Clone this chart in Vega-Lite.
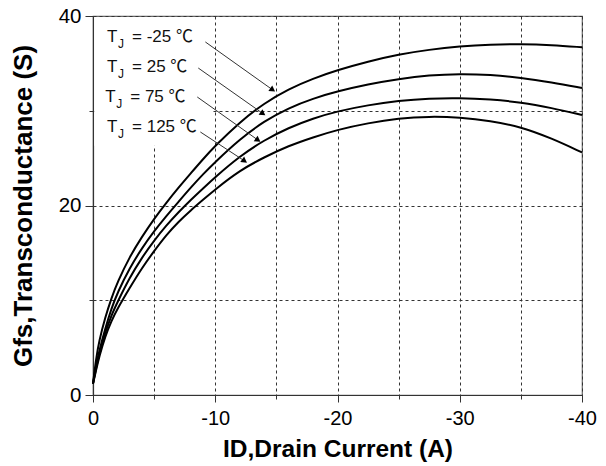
{
  "$schema": "https://vega.github.io/schema/vega-lite/v6.json",
  "width": 489,
  "height": 379,
  "autosize": "none",
  "padding": {"left": 93, "top": 16, "right": 24, "bottom": 71},
  "background": "white",
  "config": {
    "view": {"stroke": "#666", "strokeWidth": 1.2},
    "font": "Liberation Sans"
  },
  "datasets": {
    "curves": [
      {"s": "-25", "x": 0, "y": 1.2}, {"s": "-25", "x": -0.25, "y": 3.8}, {"s": "-25", "x": -0.5, "y": 5.7}, {"s": "-25", "x": -1, "y": 8.2}, {"s": "-25", "x": -1.5, "y": 10.2}, {"s": "-25", "x": -2, "y": 11.9}, {"s": "-25", "x": -3, "y": 14.6}, {"s": "-25", "x": -4, "y": 16.7}, {"s": "-25", "x": -5, "y": 18.6}, {"s": "-25", "x": -6, "y": 20.3}, {"s": "-25", "x": -7, "y": 21.9}, {"s": "-25", "x": -8, "y": 23.4}, {"s": "-25", "x": -9, "y": 24.9}, {"s": "-25", "x": -10, "y": 26.3}, {"s": "-25", "x": -12, "y": 28.8}, {"s": "-25", "x": -14, "y": 30.8}, {"s": "-25", "x": -16, "y": 32.3}, {"s": "-25", "x": -18, "y": 33.4}, {"s": "-25", "x": -20, "y": 34.3}, {"s": "-25", "x": -22.5, "y": 35.2}, {"s": "-25", "x": -25, "y": 35.95}, {"s": "-25", "x": -27.5, "y": 36.45}, {"s": "-25", "x": -30, "y": 36.8}, {"s": "-25", "x": -32.5, "y": 37.0}, {"s": "-25", "x": -35, "y": 37.05}, {"s": "-25", "x": -37.5, "y": 36.95}, {"s": "-25", "x": -40, "y": 36.7},
      {"s": "25", "x": 0, "y": 1.2}, {"s": "25", "x": -0.25, "y": 3.1}, {"s": "25", "x": -0.5, "y": 4.6}, {"s": "25", "x": -1, "y": 7.0}, {"s": "25", "x": -1.5, "y": 9.1}, {"s": "25", "x": -2, "y": 10.8}, {"s": "25", "x": -3, "y": 13.4}, {"s": "25", "x": -4, "y": 15.5}, {"s": "25", "x": -5, "y": 17.3}, {"s": "25", "x": -6, "y": 18.9}, {"s": "25", "x": -7, "y": 20.4}, {"s": "25", "x": -8, "y": 21.9}, {"s": "25", "x": -9, "y": 23.3}, {"s": "25", "x": -10, "y": 24.6}, {"s": "25", "x": -12, "y": 27.0}, {"s": "25", "x": -14, "y": 28.9}, {"s": "25", "x": -16, "y": 30.3}, {"s": "25", "x": -18, "y": 31.3}, {"s": "25", "x": -20, "y": 32.05}, {"s": "25", "x": -22.5, "y": 32.8}, {"s": "25", "x": -25, "y": 33.35}, {"s": "25", "x": -27.5, "y": 33.75}, {"s": "25", "x": -30, "y": 33.9}, {"s": "25", "x": -32.5, "y": 33.8}, {"s": "25", "x": -35, "y": 33.5}, {"s": "25", "x": -37.5, "y": 33.0}, {"s": "25", "x": -40, "y": 32.4},
      {"s": "75", "x": 0, "y": 1.2}, {"s": "75", "x": -0.25, "y": 2.8}, {"s": "75", "x": -0.5, "y": 4.3}, {"s": "75", "x": -1, "y": 6.6}, {"s": "75", "x": -1.5, "y": 8.4}, {"s": "75", "x": -2, "y": 9.8}, {"s": "75", "x": -3, "y": 12.4}, {"s": "75", "x": -4, "y": 14.5}, {"s": "75", "x": -5, "y": 16.3}, {"s": "75", "x": -6, "y": 17.9}, {"s": "75", "x": -7, "y": 19.3}, {"s": "75", "x": -8, "y": 20.6}, {"s": "75", "x": -9, "y": 21.8}, {"s": "75", "x": -10, "y": 23.0}, {"s": "75", "x": -12, "y": 25.2}, {"s": "75", "x": -14, "y": 26.9}, {"s": "75", "x": -16, "y": 28.2}, {"s": "75", "x": -18, "y": 29.2}, {"s": "75", "x": -20, "y": 29.95}, {"s": "75", "x": -22.5, "y": 30.6}, {"s": "75", "x": -25, "y": 31.05}, {"s": "75", "x": -27.5, "y": 31.3}, {"s": "75", "x": -30, "y": 31.35}, {"s": "75", "x": -32.5, "y": 31.2}, {"s": "75", "x": -35, "y": 30.9}, {"s": "75", "x": -37.5, "y": 30.3}, {"s": "75", "x": -40, "y": 29.55},
      {"s": "125", "x": 0, "y": 1.2}, {"s": "125", "x": -0.25, "y": 2.6}, {"s": "125", "x": -0.5, "y": 4.0}, {"s": "125", "x": -1, "y": 6.2}, {"s": "125", "x": -1.5, "y": 7.8}, {"s": "125", "x": -2, "y": 9.1}, {"s": "125", "x": -3, "y": 11.3}, {"s": "125", "x": -4, "y": 13.4}, {"s": "125", "x": -5, "y": 15.2}, {"s": "125", "x": -6, "y": 16.9}, {"s": "125", "x": -7, "y": 18.3}, {"s": "125", "x": -8, "y": 19.5}, {"s": "125", "x": -9, "y": 20.6}, {"s": "125", "x": -10, "y": 21.7}, {"s": "125", "x": -12, "y": 23.7}, {"s": "125", "x": -14, "y": 25.1}, {"s": "125", "x": -16, "y": 26.3}, {"s": "125", "x": -18, "y": 27.2}, {"s": "125", "x": -20, "y": 28.0}, {"s": "125", "x": -22.5, "y": 28.7}, {"s": "125", "x": -25, "y": 29.2}, {"s": "125", "x": -27.5, "y": 29.4}, {"s": "125", "x": -30, "y": 29.3}, {"s": "125", "x": -32.5, "y": 28.95}, {"s": "125", "x": -35, "y": 28.3}, {"s": "125", "x": -37.5, "y": 27.1}, {"s": "125", "x": -40, "y": 25.6}
    ],
    "mask": [{"x": -0.1, "x2": -9.8, "y": 26.3, "y2": 39.9}],
    "arrows": [
      {"x": -9.19, "y": 37.26, "x2": -14.7, "y2": 32.2},
      {"x": -8.61, "y": 34.51, "x2": -13.9, "y2": 29.7},
      {"x": -8.53, "y": 31.45, "x2": -13.5, "y2": 26.9},
      {"x": -8.78, "y": 27.76, "x2": -12.4, "y2": 24.7}
    ],
    "labels": [
      {"x": -1.15, "y": 37.29, "T": "T", "J": "J", "rest": "= -25 ℃"},
      {"x": -1.15, "y": 34.12, "T": "T", "J": "J", "rest": "= 25 ℃"},
      {"x": -1.0, "y": 30.89, "T": "T", "J": "J", "rest": "= 75 ℃"},
      {"x": -1.15, "y": 27.79, "T": "T", "J": "J", "rest": "= 125 ℃"}
    ]
  },
  "encoding": {
    "x": {
      "field": "x", "type": "quantitative",
      "scale": {"domain": [0, -40], "nice": false, "zero": false},
      "axis": {
        "title": "ID,Drain Current (A)",
        "values": [0, -5, -10, -15, -20, -25, -30, -35, -40],
        "labelExpr": "datum.value % 10 === 0 ? (datum.value < 0 ? '-' + abs(datum.value) : '0') : ''",
        "labelFontSize": 20, "labelColor": "#000", "labelPadding": 6,
        "labelFlush": false,
        "tickSize": {"condition": {"test": "datum.value % 10 === 0", "value": 7}, "value": 4},
        "tickColor": "#333", "domainColor": "#333", "domainWidth": 1.2,
        "grid": true, "gridDash": [3, 3], "gridColor": "#333", "gridWidth": 1,
        "titleFontSize": 24.5, "titleFontWeight": "bold", "titleColor": "#000", "titlePadding": 9
      }
    },
    "y": {
      "field": "y", "type": "quantitative",
      "scale": {"domain": [0, 40], "nice": false, "zero": false},
      "axis": {
        "title": "Gfs,Transconductance (S)",
        "values": [0, 10, 20, 30, 40],
        "labelExpr": "datum.value % 20 === 0 ? datum.label : ''",
        "labelFontSize": 20.5, "labelColor": "#000", "labelPadding": 4,
        "labelFlush": false,
        "tickSize": {"condition": {"test": "datum.value % 20 === 0", "value": 8}, "value": 4},
        "tickColor": "#333", "domainColor": "#333", "domainWidth": 1.2,
        "grid": true, "gridDash": [3, 3], "gridColor": "#333", "gridWidth": 1,
        "titleFontSize": 26, "titleFontWeight": "bold", "titleColor": "#000", "titlePadding": 22
      }
    }
  },
  "layer": [
    {
      "data": {"name": "mask"},
      "mark": {"type": "rect", "fill": "white"},
      "encoding": {"x2": {"field": "x2"}, "y2": {"field": "y2"}}
    },
    {
      "data": {"name": "curves"},
      "mark": {"type": "line", "color": "#000", "strokeWidth": 2, "interpolate": "basis"},
      "encoding": {"detail": {"field": "s"}}
    },
    {
      "data": {"name": "arrows"},
      "mark": {"type": "rule", "color": "#333", "strokeWidth": 1},
      "encoding": {"x2": {"field": "x2"}, "y2": {"field": "y2"}}
    },
    {
      "data": {"name": "arrows"},
      "mark": {"type": "point", "shape": "triangle-right", "filled": true, "color": "#000", "size": 45, "angle": 35, "opacity": 1},
      "encoding": {"x": {"field": "x2", "type": "quantitative"}, "y": {"field": "y2", "type": "quantitative"}}
    },
    {
      "data": {"name": "labels"},
      "mark": {"type": "text", "align": "left", "baseline": "alphabetic", "fontSize": 17, "color": "#111", "font": "Liberation Sans"},
      "encoding": {"text": {"field": "T"}}
    },
    {
      "data": {"name": "labels"},
      "mark": {"type": "text", "align": "left", "baseline": "alphabetic", "fontSize": 12, "color": "#111", "dx": 11, "dy": 6, "font": "Liberation Sans"},
      "encoding": {"text": {"field": "J"}}
    },
    {
      "data": {"name": "labels"},
      "mark": {"type": "text", "align": "left", "baseline": "alphabetic", "fontSize": 17, "color": "#111", "dx": 25, "font": "Liberation Sans, Noto Sans CJK SC"},
      "encoding": {"text": {"field": "rest"}}
    }
  ]
}
